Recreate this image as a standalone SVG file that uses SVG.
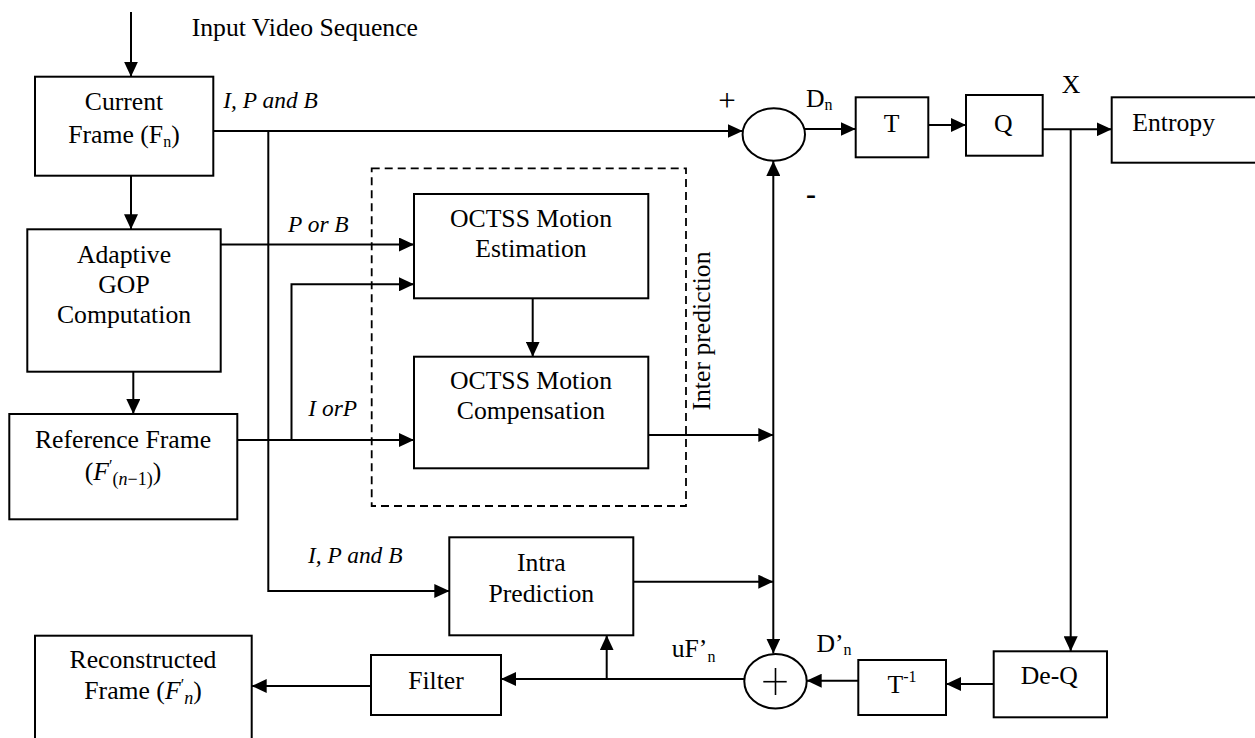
<svg xmlns="http://www.w3.org/2000/svg" width="1255" height="738" viewBox="0 0 1255 738">
<style>
  .box{fill:#fff;stroke:#000;stroke-width:2}
  .cn{fill:none;stroke:#000;stroke-width:2}
  .arr{marker-end:url(#ah)}
  .t{font-family:'Liberation Serif',Tinos,'Times New Roman',Times,'Noto Serif','DejaVu Serif',serif;font-size:25.7px;fill:#000}
  .c{text-anchor:middle}
  .lbl{font-family:'Liberation Serif',Tinos,'Times New Roman',Times,'Noto Serif','DejaVu Serif',serif;font-size:23.4px;font-style:italic;fill:#000}
  .dash{fill:none;stroke:#000;stroke-width:1.8;stroke-dasharray:8,5}
</style>
<defs>
  <marker id="ah" viewBox="0 0 15 14" refX="15" refY="7" markerWidth="15" markerHeight="14" markerUnits="userSpaceOnUse" orient="auto-start-reverse">
    <path d="M0,0 L15,7 L0,14 z" fill="#000"/>
  </marker>
</defs>
<rect width="1255" height="738" fill="#fff"/>

<g id="inter-group">
  <rect class="dash" x="371.7" y="168.3" width="314.3" height="337.7"/>
  <text class="t" font-family="Liberation Serif, serif" transform="translate(710,331) rotate(-90)" text-anchor="middle">Inter prediction</text>
</g>

<g id="connectors">
  <line class="cn arr" x1="131" y1="12" x2="131" y2="76.7"/>
  <line class="cn arr" x1="131" y1="175.7" x2="131" y2="229.3"/>
  <line class="cn arr" x1="133.3" y1="371.7" x2="133.3" y2="414"/>
  <line class="cn arr" x1="213.3" y1="131" x2="742.7" y2="131"/>
  <polyline class="cn arr" points="268.3,131 268.3,591 449.3,591"/>
  <line class="cn arr" x1="220.7" y1="244.5" x2="414" y2="244.5"/>
  <line class="cn arr" x1="237.3" y1="440" x2="414" y2="440"/>
  <polyline class="cn arr" points="291.5,440 291.5,284.3 414,284.3"/>
  <line class="cn arr" x1="532.7" y1="298.3" x2="532.7" y2="356.7"/>
  <line class="cn arr" x1="648.3" y1="435" x2="773.3" y2="435"/>
  <line class="cn arr" x1="633.3" y1="581.7" x2="773.3" y2="581.7"/>
  <line class="cn" x1="773.3" y1="653.5" x2="773.3" y2="161" marker-start="url(#ah)" marker-end="url(#ah)"/>
  <line class="cn arr" x1="805" y1="129" x2="855.7" y2="129"/>
  <line class="cn arr" x1="928.3" y1="125" x2="966" y2="125"/>
  <line class="cn arr" x1="1042.7" y1="129.3" x2="1111.7" y2="129.3"/>
  <line class="cn arr" x1="1070.7" y1="129.3" x2="1070.7" y2="651.3"/>
  <line class="cn arr" x1="993.7" y1="684" x2="946" y2="684"/>
  <line class="cn arr" x1="858.3" y1="680.7" x2="806.7" y2="680.7"/>
  <line class="cn arr" x1="744.3" y1="679" x2="501" y2="679"/>
  <line class="cn arr" x1="606.7" y1="679" x2="606.7" y2="635.3"/>
  <line class="cn arr" x1="371" y1="686" x2="251.7" y2="686"/>
</g>

<g id="labels">
  <text class="t" x="191.7" y="36">Input Video Sequence</text>
  <text class="lbl" x="223.3" y="108.3">I, P and B</text>
  <text class="lbl" x="288" y="231.7">P or B</text>
  <text class="lbl" x="308.3" y="416">I orP</text>
  <text class="lbl" x="308" y="563">I, P and B</text>
  <text class="t" x="727" y="111" text-anchor="middle" style="font-size:31px">+</text>
  <text class="t" x="806" y="204" style="font-size:30px;font-weight:bold">-</text>
  <text class="t" x="806" y="106.7">D<tspan dy="3" style="font-size:16px">n</tspan></text>
  <text class="t" x="1071" y="93.3" text-anchor="middle">X</text>
  <text class="t" x="671.7" y="656.7">uF’<tspan dy="5" style="font-size:16px">n</tspan></text>
  <text class="t" x="816.4" y="651.7">D’<tspan dy="3.5" style="font-size:16px">n</tspan></text>
</g>

<g id="current-frame">
  <rect class="box" x="35" y="76.7" width="178.3" height="99"/>
  <text class="t c" x="124" y="110">Current</text>
  <text class="t c" x="124" y="143">Frame (F<tspan dy="4" style="font-size:16px">n</tspan><tspan dy="-4">)</tspan></text>
</g>

<g id="adaptive-gop">
  <rect class="box" x="27.3" y="229.3" width="193.4" height="142.4"/>
  <text class="t c" x="124" y="263.3">Adaptive</text>
  <text class="t c" x="124" y="292.7">GOP</text>
  <text class="t c" x="124" y="323.3">Computation</text>
</g>

<g id="reference-frame">
  <rect class="box" x="9.3" y="414" width="228" height="105.3"/>
  <text class="t c" x="123" y="448">Reference Frame</text>
  <text class="t c" x="123" y="480">(<tspan style="font-style:italic">F</tspan><tspan dy="-9" style="font-size:16px">′</tspan><tspan dy="14" style="font-size:18px">(<tspan style="font-style:italic">n</tspan>−1)</tspan><tspan dy="-5">)</tspan></text>
</g>

<g id="motion-estimation">
  <rect class="box" x="414" y="194" width="234.3" height="104.3"/>
  <text class="t c" x="531" y="226.7">OCTSS Motion</text>
  <text class="t c" x="531" y="257.3">Estimation</text>
</g>

<g id="motion-compensation">
  <rect class="box" x="414" y="356.7" width="234.3" height="111.6"/>
  <text class="t c" x="531" y="389">OCTSS Motion</text>
  <text class="t c" x="531" y="419.3">Compensation</text>
</g>

<g id="intra-prediction">
  <rect class="box" x="449.3" y="537.3" width="184" height="98"/>
  <text class="t c" x="541.3" y="570.7">Intra</text>
  <text class="t c" x="541.3" y="601.7">Prediction</text>
</g>

<g id="subtract">
  <ellipse class="box" cx="773.8" cy="134.5" rx="31.2" ry="26.2"/>
</g>

<g id="transform">
  <rect class="box" x="855.7" y="97.3" width="72.6" height="60"/>
  <text class="t c" x="891.7" y="131.7">T</text>
</g>

<g id="quantize">
  <rect class="box" x="966" y="95" width="76.7" height="60.7"/>
  <text class="t c" x="1003.3" y="131.7">Q</text>
</g>

<g id="entropy">
  <rect class="box" x="1111.7" y="97.3" width="150" height="65.4"/>
  <text class="t" x="1132.3" y="131">Entropy</text>
</g>

<g id="de-q">
  <rect class="box" x="993.7" y="651.3" width="113.3" height="66"/>
  <text class="t c" x="1049.3" y="684">De-Q</text>
</g>

<g id="inverse-transform">
  <rect class="box" x="858.3" y="660" width="87.7" height="55"/>
  <text class="t c" x="902" y="693.3">T<tspan dy="-11" style="font-size:16px">-1</tspan></text>
</g>

<g id="add">
  <ellipse class="box" cx="775.5" cy="681.2" rx="31.2" ry="27.2"/>
  <line x1="763.3" y1="681.7" x2="786.7" y2="681.7" stroke="#000" stroke-width="1.6"/>
  <line x1="775.5" y1="668" x2="775.5" y2="695" stroke="#000" stroke-width="1.6"/>
</g>

<g id="filter">
  <rect class="box" x="371" y="655" width="130" height="60"/>
  <text class="t c" x="436" y="689">Filter</text>
</g>

<g id="reconstructed-frame">
  <rect class="box" x="35" y="635.7" width="216.7" height="115"/>
  <text class="t c" x="143" y="668.3">Reconstructed</text>
  <text class="t c" x="143" y="699.3">Frame (<tspan style="font-style:italic">F</tspan><tspan dy="-9" style="font-size:16px">′</tspan><tspan dy="14" style="font-size:18px;font-style:italic">n</tspan><tspan dy="-5">)</tspan></text>
</g>
</svg>
